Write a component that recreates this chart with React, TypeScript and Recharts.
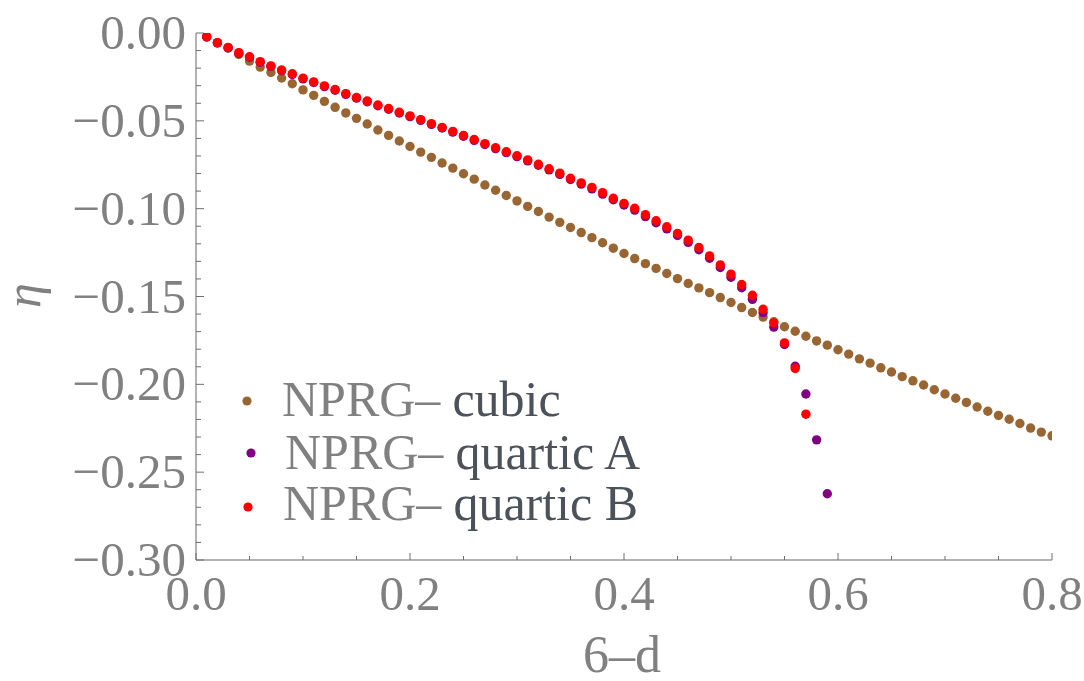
import { ScatterChart, Scatter, XAxis, YAxis, Legend } from 'recharts';

// 6-d values (shared x grid)
const dValues = [
  0.01, 0.02, 0.03, 0.04, 0.05, 0.06, 0.07, 0.08, 0.09, 0.1,
  0.11, 0.12, 0.13, 0.14, 0.15, 0.16, 0.17, 0.18, 0.19, 0.2,
  0.21, 0.22, 0.23, 0.24, 0.25, 0.26, 0.27, 0.28, 0.29, 0.3,
  0.31, 0.32, 0.33, 0.34, 0.35, 0.36, 0.37, 0.38, 0.39, 0.4,
  0.41, 0.42, 0.43, 0.44, 0.45, 0.46, 0.47, 0.48, 0.49, 0.5,
  0.51, 0.52, 0.53, 0.54, 0.55, 0.56, 0.57, 0.58, 0.59, 0.6,
  0.61, 0.62, 0.63, 0.64, 0.65, 0.66, 0.67, 0.68, 0.69, 0.7,
  0.71, 0.72, 0.73, 0.74, 0.75, 0.76, 0.77, 0.78, 0.79, 0.8,
];

const etaCubic = [
  -0.0021, -0.0055, -0.0084, -0.0122, -0.016, -0.0194, -0.0225, -0.0256, -0.0289, -0.0324,
  -0.0355, -0.0389, -0.0423, -0.0455, -0.0486, -0.0518, -0.0552, -0.0583, -0.0615, -0.0646,
  -0.0678, -0.0708, -0.074, -0.0769, -0.0801, -0.0832, -0.0865, -0.0895, -0.0925, -0.0956,
  -0.0987, -0.1016, -0.1048, -0.1078, -0.1107, -0.1136, -0.1165, -0.1194, -0.1225, -0.1255,
  -0.1284, -0.1313, -0.134, -0.1369, -0.1398, -0.1426, -0.1451, -0.1478, -0.1506, -0.1534,
  -0.1563, -0.1591, -0.1617, -0.1644, -0.1672, -0.1698, -0.1726, -0.1753, -0.1777, -0.1803,
  -0.1828, -0.1855, -0.1879, -0.1906, -0.193, -0.1956, -0.198, -0.2004, -0.2031, -0.2055,
  -0.2079, -0.2103, -0.2129, -0.2153, -0.2177, -0.2199, -0.2223, -0.2249, -0.2272, -0.2293,
];

const etaQuarticA = [
  -0.0023, -0.0057, -0.0085, -0.0115, -0.0138, -0.0166, -0.019, -0.0214, -0.0236, -0.0261,
  -0.0282, -0.0305, -0.0326, -0.0349, -0.0371, -0.0391, -0.0414, -0.0434, -0.0455, -0.0476,
  -0.0497, -0.052, -0.0541, -0.0564, -0.0588, -0.0611, -0.0635, -0.0658, -0.0681, -0.0704,
  -0.0728, -0.0753, -0.0779, -0.0805, -0.0834, -0.086, -0.0887, -0.0917, -0.0949, -0.0979,
  -0.1008, -0.1045, -0.108, -0.1115, -0.1153, -0.1192, -0.1234, -0.1282, -0.1335, -0.139,
  -0.145, -0.1516, -0.1592, -0.1674, -0.1773, -0.1897, -0.2055, -0.2316, -0.2623,
];

const etaQuarticB = [
  -0.0021, -0.0055, -0.0082, -0.0112, -0.0135, -0.0163, -0.0187, -0.0211, -0.0232, -0.0257,
  -0.0278, -0.0301, -0.0322, -0.0345, -0.0367, -0.0387, -0.041, -0.043, -0.0451, -0.0472,
  -0.0493, -0.0516, -0.0537, -0.056, -0.0583, -0.0606, -0.063, -0.0653, -0.0676, -0.0699,
  -0.0722, -0.0747, -0.0773, -0.0798, -0.0827, -0.0853, -0.0879, -0.0909, -0.0941, -0.097,
  -0.0998, -0.1034, -0.1069, -0.1103, -0.1141, -0.1179, -0.1221, -0.1269, -0.132, -0.1373,
  -0.1432, -0.1493, -0.1573, -0.165, -0.1764, -0.191, -0.217,
];

const xTicks = [0, 0.05, 0.1, 0.15, 0.2, 0.25, 0.3, 0.35, 0.4, 0.45, 0.5, 0.55, 0.6, 0.65, 0.7, 0.75, 0.8];
const xTickLabels = [0, 0.2, 0.4, 0.6, 0.8];
const yTicks = [
  -0.3, -0.29, -0.28, -0.27, -0.26, -0.25, -0.24, -0.23, -0.22, -0.21,
  -0.2, -0.19, -0.18, -0.17, -0.16, -0.15, -0.14, -0.13, -0.12, -0.11,
  -0.1, -0.09, -0.08, -0.07, -0.06, -0.05, -0.04, -0.03, -0.02, -0.01, 0,
];
const yTickLabels = [-0.3, -0.25, -0.2, -0.15, -0.1, -0.05, 0];

const toPoints = (ys: number[]) => ys.map((y, i) => ({ x: dValues[i], y }));

const FONT = '"Liberation Serif", "Times New Roman", serif';
const LABEL_GRAY = '#808080';
const TICK_GRAY = '#6e6e6e';
const FRAME_GRAY = '#9a9a9a';

const isIn = (v: number, list: number[]) => list.some((m) => Math.abs(m - v) < 1e-6);

const fmtY = (v: number) => (Math.abs(v) < 1e-9 ? '0.00' : '\u2212' + Math.abs(v).toFixed(2));

function BottomTick(props: any) {
  const { x, y, payload } = props;
  const major = isIn(payload.value, xTickLabels);
  return (
    <g>
      <line x1={x} y1={y} x2={x} y2={y - (major ? 7 : 4)} stroke={TICK_GRAY} strokeWidth={1} />
      {major && (
        <text x={x} y={y + 50} textAnchor="middle" fontFamily={FONT} fontSize={49} fill={LABEL_GRAY}>
          {payload.value.toFixed(1)}
        </text>
      )}
    </g>
  );
}

function TopTick(props: any) {
  const { x, y, payload } = props;
  const major = isIn(payload.value, xTickLabels);
  return <line x1={x} y1={y} x2={x} y2={y + (major ? 7 : 4)} stroke={TICK_GRAY} strokeWidth={1} />;
}

function LeftTick(props: any) {
  const { x, y, payload } = props;
  const major = isIn(payload.value, yTickLabels);
  return (
    <g>
      <line x1={x} y1={y} x2={x + (major ? 8 : 5)} y2={y} stroke={TICK_GRAY} strokeWidth={1} />
      {major && (
        <text x={x - 10} y={y + 16} textAnchor="end" fontFamily={FONT} fontSize={49} fill={LABEL_GRAY}>
          {fmtY(payload.value)}
        </text>
      )}
    </g>
  );
}

function RightTick(props: any) {
  const { x, y, payload } = props;
  const major = isIn(payload.value, yTickLabels);
  return <line x1={x} y1={y} x2={x - (major ? 8 : 5)} y2={y} stroke={TICK_GRAY} strokeWidth={1} />;
}

function EtaLabel(props: any) {
  const vb = props.viewBox;
  const cx = 40;
  const cy = vb.y + vb.height / 2 - 1;
  return (
    <text
      x={cx}
      y={cy}
      transform={`rotate(-90, ${cx}, ${cy})`}
      textAnchor="middle"
      fontFamily={FONT}
      fontStyle="italic"
      fontSize={50}
      fill={LABEL_GRAY}
    >
      η
    </text>
  );
}

function DLabel(props: any) {
  const vb = props.viewBox;
  return (
    <text x={vb.x + vb.width / 2 - 2} y={672} textAnchor="middle" fontFamily={FONT} fontSize={52} fill={LABEL_GRAY}>
      6–d
    </text>
  );
}

const legendRows = [
  { dx: 17, dy: 31, tx: 52, ty: 46, rest: 'cubic' },
  { dx: 21, dy: 83, tx: 55, ty: 99, rest: 'quartic A' },
  { dx: 18, dy: 137, tx: 53, ty: 150, rest: 'quartic B' },
];

function LegendBox(props: any) {
  const payload = props.payload || [];
  return (
    <svg width={460} height={170}>
      {payload.map((entry: any, i: number) => {
        const row = legendRows[i];
        return (
          <g key={entry.value}>
            <circle cx={row.dx} cy={row.dy} r={4.6} fill={entry.color} />
            <text x={row.tx} y={row.ty} fontFamily={FONT} fontSize={50}>
              <tspan fill={LABEL_GRAY}>NPRG–</tspan>
              <tspan dx={12} fill="#4c5259">{row.rest}</tspan>
            </text>
          </g>
        );
      })}
    </svg>
  );
}

const dot = (color: string) => (p: any) => <circle cx={p.cx} cy={p.cy} r={4.7} fill={color} />;

export default function App() {
  return (
    <div style={{ position: 'absolute', left: 0, top: 0, background: '#fff' }}>
      <ScatterChart width={1084} height={681} margin={{ top: 33, right: 32, bottom: 0, left: 0 }}>
        <XAxis
          xAxisId="b"
          dataKey="x"
          type="number"
          domain={[0, 0.8]}
          allowDataOverflow
          ticks={xTicks}
          interval={0}
          tick={<BottomTick />}
          tickLine={false}
          tickSize={0}
          tickMargin={0}
          height={121}
          axisLine={{ stroke: FRAME_GRAY, strokeWidth: 1.5 }}
          label={<DLabel />}
        />
        <XAxis
          xAxisId="t"
          orientation="top"
          type="number"
          domain={[0, 0.8]}
          allowDataOverflow
          ticks={xTicks}
          interval={0}
          tick={<TopTick />}
          tickLine={false}
          tickSize={0}
          tickMargin={0}
          height={0}
          axisLine={{ stroke: FRAME_GRAY, strokeWidth: 1.5 }}
        />
        <YAxis
          yAxisId="l"
          dataKey="y"
          type="number"
          domain={[-0.3, 0]}
          allowDataOverflow
          ticks={yTicks}
          interval={0}
          tick={<LeftTick />}
          tickLine={false}
          tickSize={0}
          tickMargin={0}
          width={196}
          axisLine={{ stroke: FRAME_GRAY, strokeWidth: 1.5 }}
          label={<EtaLabel />}
        />
        <YAxis
          yAxisId="r"
          orientation="right"
          type="number"
          domain={[-0.3, 0]}
          allowDataOverflow
          ticks={yTicks}
          interval={0}
          tick={<RightTick />}
          tickLine={false}
          tickSize={0}
          tickMargin={0}
          width={0}
          axisLine={{ stroke: FRAME_GRAY, strokeWidth: 1.5 }}
        />
        <Legend
          layout="horizontal"
          verticalAlign="middle"
          align="center"
          content={<LegendBox />}
          wrapperStyle={{ position: 'absolute', left: 230, top: 370, width: 460, height: 170 }}
        />
        <Scatter
          name="NPRG- cubic"
          xAxisId="b"
          yAxisId="l"
          data={toPoints(etaCubic)}
          fill="#996633"
          shape={dot('#996633')}
          isAnimationActive={false}
        />
        <Scatter
          name="NPRG- quartic A"
          xAxisId="b"
          yAxisId="l"
          data={toPoints(etaQuarticA)}
          fill="#800080"
          shape={dot('#800080')}
          isAnimationActive={false}
        />
        <Scatter
          name="NPRG- quartic B"
          xAxisId="b"
          yAxisId="l"
          data={toPoints(etaQuarticB)}
          fill="#ff0000"
          shape={dot('#ff0000')}
          isAnimationActive={false}
        />
      </ScatterChart>
    </div>
  );
}
